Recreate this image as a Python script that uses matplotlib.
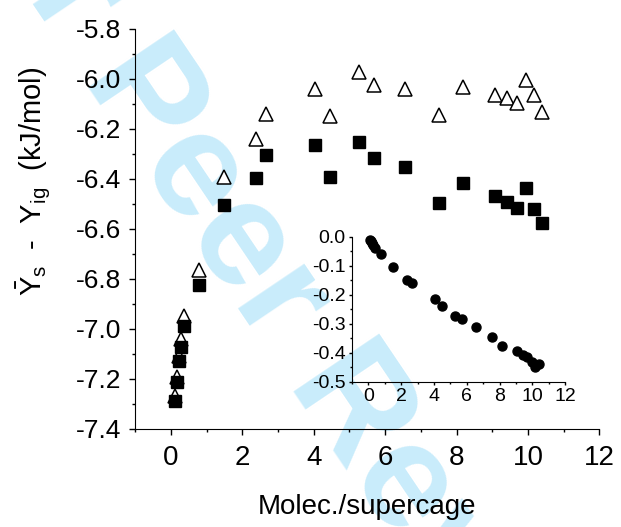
import matplotlib
matplotlib.use("Agg")
import matplotlib.pyplot as plt
from matplotlib.ticker import MultipleLocator, FormatStrFormatter

plt.rcParams['font.family'] = ['Liberation Sans', 'DejaVu Sans']
plt.rcParams['mathtext.fontset'] = 'custom'
plt.rcParams['mathtext.rm'] = 'Liberation Sans'
plt.rcParams['mathtext.it'] = 'Liberation Sans:italic'
plt.rcParams['mathtext.bf'] = 'Liberation Sans:bold'

# ---- data ----
molec = [0.11, 0.17, 0.21, 0.28, 0.37, 0.77, 1.49, 2.38, 2.65, 4.04, 4.46,
         5.28, 5.68, 6.56, 7.52, 8.17, 9.07, 9.42, 9.69, 9.96, 10.17, 10.39]
tri_vals = [-7.270, -7.191, -7.107, -7.040, -6.950, -6.766, -6.393, -6.241,
            -6.141, -6.042, -6.147, -5.972, -6.026, -6.040, -6.145, -6.034,
            -6.065, -6.077, -6.098, -6.004, -6.065, -6.131]
sq_vals = [-7.287, -7.214, -7.127, -7.071, -6.990, -6.826, -6.503, -6.398,
           -6.305, -6.266, -6.392, -6.252, -6.316, -6.354, -6.497, -6.418,
           -6.467, -6.492, -6.516, -6.438, -6.519, -6.576]
inset_vals = [-0.010, -0.016, -0.022, -0.030, -0.040, -0.060, -0.103, -0.149,
              -0.159, -0.215, -0.239, -0.272, -0.284, -0.310, -0.345, -0.377,
              -0.394, -0.408, -0.414, -0.431, -0.448, -0.439]

xticks_main = [0, 2, 4, 6, 8, 10, 12]
yticks_main = [-5.8, -6.0, -6.2, -6.4, -6.6, -6.8, -7.0, -7.2, -7.4]
xticks_inset = [0, 2, 4, 6, 8, 10, 12]
yticks_inset = [0.0, -0.1, -0.2, -0.3, -0.4, -0.5]

fig = plt.figure(figsize=(6.21, 5.27), dpi=100)

# watermark
fig.text(0.455, 0.42, 'For Peer Review', rotation=-56, fontsize=108,
         fontweight='bold', color='#c9ecfb', ha='center', va='center',
         zorder=-5, rotation_mode='anchor')

ax = fig.add_axes([0.218, 0.186, 0.747, 0.759])
ax.patch.set_alpha(0)
ax.plot(molec, tri_vals, linestyle='none', marker='^', markersize=10.5,
        markerfacecolor='white', markeredgecolor='black', markeredgewidth=1.1,
        clip_on=False, zorder=3)
ax.plot(molec, sq_vals, linestyle='none', marker='s', markersize=8.6,
        markerfacecolor='black', markeredgecolor='black', clip_on=False, zorder=3)
ax.set_xlim(-1, 12)
ax.set_ylim(-7.4, -5.8)
ax.set_xticks(xticks_main)
ax.set_yticks(yticks_main)
ax.xaxis.set_minor_locator(MultipleLocator(1))
ax.yaxis.set_minor_locator(MultipleLocator(0.1))
ax.yaxis.set_major_formatter(FormatStrFormatter('%.1f'))
for s in ['top', 'right']:
    ax.spines[s].set_visible(False)
ax.tick_params(axis='both', which='major', direction='out', length=4.3, width=1)
ax.tick_params(axis='both', which='minor', direction='out', length=2.5, width=1)
ax.tick_params(axis='x', which='major', labelsize=20, pad=7)
ax.tick_params(axis='y', which='major', labelsize=19, pad=6)
ax.set_xlabel('Molec./supercage', fontsize=20, labelpad=17)

fig.text(0.055, 0.655,
         r'$\bar{\mathrm{Y}}_{\mathrm{s}}$  -  $\mathrm{Y}_{\mathrm{ig}}$  (kJ/mol)',
         rotation=90, fontsize=21, ha='center', va='center')

# inset
axi = fig.add_axes([0.567, 0.2757, 0.343, 0.2753])
axi.patch.set_alpha(0)
axi.plot(molec, inset_vals, linestyle='none', marker='o', markersize=6.5,
         color='black', clip_on=False, zorder=3)
axi.set_xlim(-1, 12)
axi.set_ylim(-0.5, 0.0)
axi.set_xticks(xticks_inset)
axi.set_yticks(yticks_inset)
axi.xaxis.set_minor_locator(MultipleLocator(1))
axi.yaxis.set_minor_locator(MultipleLocator(0.05))
axi.yaxis.set_major_formatter(FormatStrFormatter('%.1f'))
for s in ['top', 'right']:
    axi.spines[s].set_visible(False)
axi.tick_params(axis='both', which='major', direction='out', length=2.5, width=1,
                labelsize=14, pad=2)
axi.tick_params(axis='both', which='minor', direction='out', length=1.5, width=1)

fig.savefig('out.png', dpi=100)
